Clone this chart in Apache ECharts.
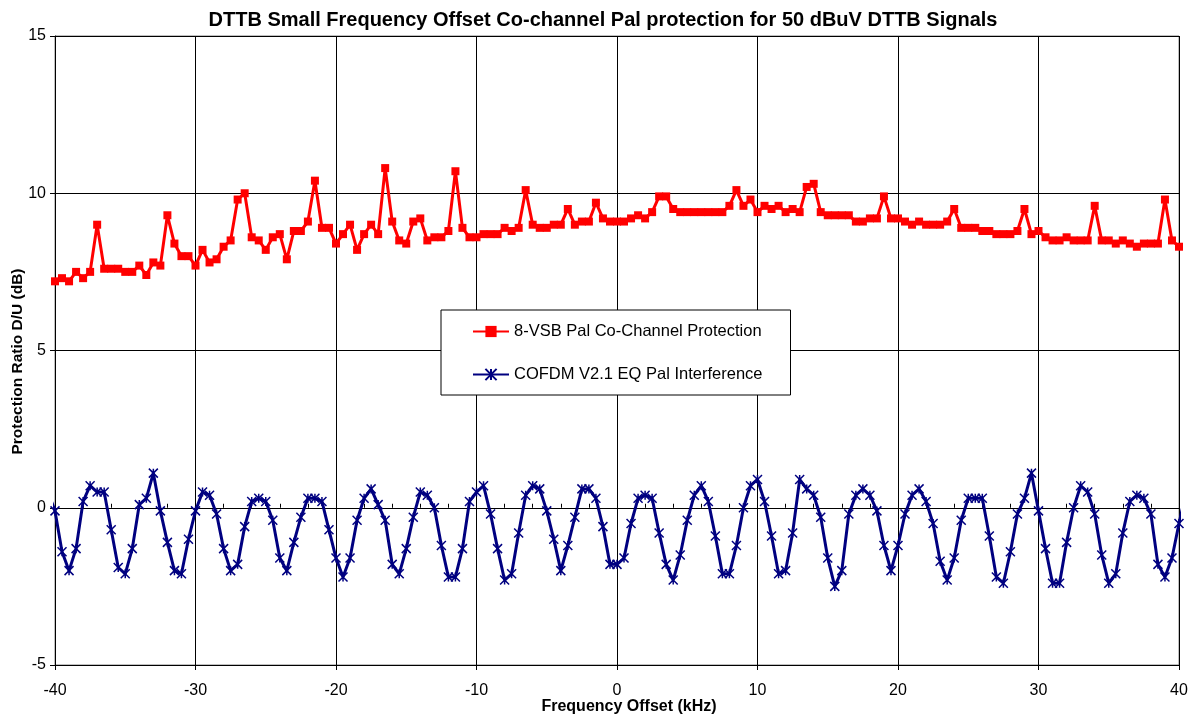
<!DOCTYPE html>
<html>
<head>
<meta charset="utf-8">
<script src="https://cdn.jsdelivr.net/npm/echarts@6/dist/echarts.min.js"></script>
<style>
html,body{margin:0;padding:0;background:#fff;}
#chart{width:1194px;height:718px;}
</style>
</head>
<body>
<div id="chart"></div>
<script>
// Frequency offsets (kHz): -40 .. 40 step 0.5
const freqStart = -40, freqStep = 0.5;
const vsbProtection = [
  7.2,7.3,7.2,7.5,7.3,7.5,9.0,7.6,7.6,7.6,
  7.5,7.5,7.7,7.4,7.8,7.7,9.3,8.4,8.0,8.0,
  7.7,8.2,7.8,7.9,8.3,8.5,9.8,10.0,8.6,8.5,
  8.2,8.6,8.7,7.9,8.8,8.8,9.1,10.4,8.9,8.9,
  8.4,8.7,9.0,8.2,8.7,9.0,8.7,10.8,9.1,8.5,
  8.4,9.1,9.2,8.5,8.6,8.6,8.8,10.7,8.9,8.6,
  8.6,8.7,8.7,8.7,8.9,8.8,8.9,10.1,9.0,8.9,
  8.9,9.0,9.0,9.5,9.0,9.1,9.1,9.7,9.2,9.1,
  9.1,9.1,9.2,9.3,9.2,9.4,9.9,9.9,9.5,9.4,
  9.4,9.4,9.4,9.4,9.4,9.4,9.6,10.1,9.6,9.8,
  9.4,9.6,9.5,9.6,9.4,9.5,9.4,10.2,10.3,9.4,
  9.3,9.3,9.3,9.3,9.1,9.1,9.2,9.2,9.9,9.2,
  9.2,9.1,9.0,9.1,9.0,9.0,9.0,9.1,9.5,8.9,
  8.9,8.9,8.8,8.8,8.7,8.7,8.7,8.8,9.5,8.7,
  8.8,8.6,8.5,8.5,8.6,8.5,8.5,8.5,9.6,8.5,
  8.5,8.4,8.5,8.4,8.3,8.4,8.4,8.4,9.8,8.5,
  8.3
];
const cofdmInterference = [
  -0.1,-1.4,-2.0,-1.3,0.2,0.7,0.5,0.5,-0.7,-1.9,
  -2.1,-1.3,0.1,0.3,1.1,-0.1,-1.1,-2.0,-2.1,-1.0,
  -0.1,0.5,0.4,-0.2,-1.3,-2.0,-1.8,-0.6,0.2,0.3,
  0.2,-0.4,-1.6,-2.0,-1.1,-0.3,0.3,0.3,0.2,-0.7,
  -1.6,-2.2,-1.6,-0.4,0.3,0.6,0.1,-0.4,-1.8,-2.1,
  -1.3,-0.3,0.5,0.4,0.0,-1.2,-2.2,-2.2,-1.3,0.2,
  0.5,0.7,-0.2,-1.3,-2.3,-2.1,-0.8,0.4,0.7,0.6,
  -0.1,-1.0,-2.0,-1.2,-0.3,0.6,0.6,0.3,-0.6,-1.8,
  -1.8,-1.6,-0.5,0.3,0.4,0.3,-0.8,-1.8,-2.3,-1.5,
  -0.4,0.4,0.7,0.2,-0.9,-2.1,-2.1,-1.2,0.0,0.7,
  0.9,0.2,-0.9,-2.1,-2.0,-0.8,0.9,0.6,0.4,-0.3,
  -1.6,-2.5,-2.0,-0.2,0.4,0.6,0.4,-0.1,-1.2,-2.0,
  -1.2,-0.2,0.4,0.6,0.2,-0.5,-1.7,-2.3,-1.6,-0.4,
  0.3,0.3,0.3,-0.9,-2.2,-2.4,-1.4,-0.2,0.3,1.1,
  -0.1,-1.3,-2.4,-2.4,-1.1,0.0,0.7,0.5,-0.2,-1.5,
  -2.4,-2.1,-0.8,0.2,0.4,0.3,-0.2,-1.8,-2.2,-1.6,
  -0.5
];
// points just outside the axis range (partly visible at the edges)
const cofdmEdgeBefore = [-40.5, 0.5];
const cofdmEdgeAfter = [40.5, 0.5];

const xTicks = [-40,-30,-20,-10,0,10,20,30,40];
const yTicks = [-5,0,5,10,15];

const FONT = '"Liberation Sans", Arial, sans-serif';
const freqs = vsbProtection.map((_, i) => freqStart + i * freqStep);
const redData = freqs.map((f, i) => [f, vsbProtection[i]]);
const blueData = [cofdmEdgeBefore].concat(freqs.map((f, i) => [f, cofdmInterference[i]]), [cofdmEdgeAfter]);

const chart = echarts.init(document.getElementById('chart'), null, {renderer: 'canvas'});
chart.setOption({
  animation: false,
  backgroundColor: '#ffffff',
  title: {
    text: 'DTTB Small Frequency Offset Co-channel Pal protection for 50 dBuV DTTB Signals',
    left: 598, textAlign: 'center', top: 5,
    textStyle: {fontFamily: FONT, fontSize: 20, fontWeight: 'bold', color: '#000'}
  },
  grid: {left: 55, right: 15, top: 36, bottom: 53, outerBoundsMode: 'none', containLabel: false,
         show: true, borderColor: '#808080', borderWidth: 1, backgroundColor: 'transparent'},
  legend: {
    orient: 'vertical', left: 441, top: 310,
    padding: [13, 28, 12, 31], itemGap: 26,
    itemWidth: 36, itemHeight: 14,
    backgroundColor: '#fff', borderColor: '#000', borderWidth: 1,
    textStyle: {fontFamily: FONT, fontSize: 16.5, color: '#000'},
    data: ['8-VSB Pal Co-Channel Protection', 'COFDM V2.1 EQ Pal Interference']
  },
  xAxis: [{
    type: 'value', min: xTicks[0], max: xTicks[xTicks.length-1], interval: 10, position: 'bottom',
    name: 'Frequency Offset (kHz)', nameLocation: 'middle', nameGap: 34, nameMoveOverlap: false,
    nameTextStyle: {fontFamily: FONT, fontSize: 16, fontWeight: 'bold', color: '#000', padding: [0, 0, 0, 24]},
    axisLine: {show: true, onZero: false, lineStyle: {color: '#000', width: 1}},
    axisTick: {show: true, length: 5, lineStyle: {color: '#000'}},
    axisLabel: {fontFamily: FONT, fontSize: 16, color: '#000', margin: 18},
    splitLine: {show: true, lineStyle: {color: '#000', width: 1}}
  }, {
    type: 'value', min: xTicks[0], max: xTicks[xTicks.length-1], interval: 2, position: 'bottom',
    axisLine: {show: false}, axisLabel: {show: false}, splitLine: {show: false},
    axisTick: {show: true, inside: true, length: 4, lineStyle: {color: '#000'}}
  }],
  yAxis: {
    type: 'value', min: yTicks[0], max: yTicks[yTicks.length-1], interval: 5,
    name: 'Protection Ratio D/U (dB)', nameLocation: 'middle', nameGap: 29, nameMoveOverlap: false,
    nameTextStyle: {fontFamily: FONT, fontSize: 15.5, fontWeight: 'bold', color: '#000', padding: [0, 22, 0, 0]},
    axisLine: {show: true, onZero: false, lineStyle: {color: '#000', width: 1}},
    axisTick: {show: true, length: 5, lineStyle: {color: '#000'}},
    axisLabel: {fontFamily: FONT, fontSize: 16, color: '#000', margin: 9},
    splitLine: {show: true, lineStyle: {color: '#000', width: 1}}
  },
  series: [{
    name: '8-VSB Pal Co-Channel Protection', type: 'line', xAxisIndex: 0,
    data: redData, clip: true,
    symbol: 'rect', symbolSize: 8, showAllSymbol: true,
    lineStyle: {color: '#ff0000', width: 3},
    itemStyle: {color: '#ff0000'}
  }, {
    name: 'COFDM V2.1 EQ Pal Interference', type: 'line', xAxisIndex: 0,
    data: blueData, clip: true,
    symbol: 'path://M0,0L10,10M10,0L0,10M5,0L5,10', symbolSize: 9, showAllSymbol: true,
    lineStyle: {color: '#000080', width: 3},
    itemStyle: {color: '#000080', borderColor: '#000080', borderWidth: 1.5}
  }]
});
</script>
</body>
</html>
